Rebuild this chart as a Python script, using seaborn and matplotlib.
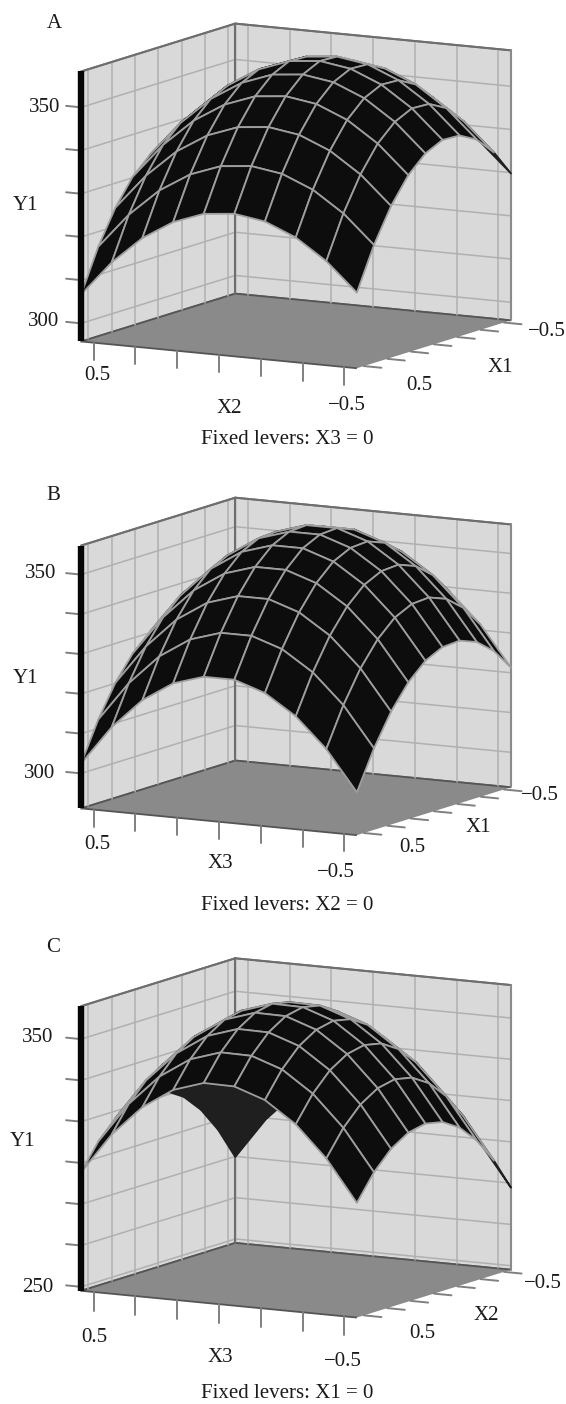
import numpy as np
import seaborn as sns
import matplotlib.pyplot as plt
from mpl_toolkits.mplot3d import proj3d

sns.set_theme(style="white")
plt.rcParams['font.family'] = ['Liberation Serif', 'DejaVu Sans']

# factor levels of the response surface mesh
levels = [-0.55, -0.428, -0.306, -0.183, -0.061, 0.061, 0.183, 0.306, 0.428, 0.55]
ticks = [0.5, 1/3, 1/6, 0, -1/6, -1/3, -0.5]

# rows follow the right hand factor, columns the left hand factor
y1_a = [
    [329.8, 336.4, 341.2, 344.2, 345.3, 344.6, 342.0, 337.6, 331.3, 323.2],
    [335.9, 342.5, 347.3, 350.3, 351.4, 350.7, 348.1, 343.7, 337.4, 329.3],
    [340.1, 346.7, 351.5, 354.5, 355.6, 354.9, 352.3, 347.9, 341.6, 333.5],
    [342.3, 348.9, 353.7, 356.7, 357.8, 357.1, 354.5, 350.1, 343.8, 335.7],
    [342.5, 349.1, 353.9, 356.9, 358.0, 357.3, 354.7, 350.3, 344.0, 335.9],
    [340.6, 347.2, 352.0, 355.0, 356.1, 355.4, 352.8, 348.4, 342.1, 334.0],
    [336.8, 343.4, 348.2, 351.2, 352.3, 351.6, 349.0, 344.6, 338.3, 330.2],
    [330.9, 337.5, 342.3, 345.3, 346.4, 345.7, 343.1, 338.7, 332.4, 324.3],
    [323.1, 329.7, 334.5, 337.5, 338.6, 337.9, 335.3, 330.9, 324.6, 316.5],
    [313.3, 319.9, 324.7, 327.7, 328.8, 328.1, 325.5, 321.1, 314.8, 306.7],
]
y1_b = [
    [321.3, 331.4, 338.9, 344.0, 346.6, 346.6, 344.2, 339.2, 331.7, 321.8],
    [326.8, 336.9, 344.4, 349.5, 352.1, 352.1, 349.7, 344.7, 337.2, 327.3],
    [330.4, 340.5, 348.0, 353.1, 355.7, 355.7, 353.3, 348.3, 340.8, 330.9],
    [332.1, 342.2, 349.7, 354.8, 357.4, 357.4, 355.0, 350.0, 342.5, 332.6],
    [331.8, 341.9, 349.4, 354.5, 357.1, 357.1, 354.7, 349.7, 342.2, 332.3],
    [329.7, 339.8, 347.3, 352.4, 355.0, 355.0, 352.6, 347.6, 340.1, 330.2],
    [325.6, 335.7, 343.2, 348.3, 350.9, 350.9, 348.5, 343.5, 336.0, 326.1],
    [319.6, 329.7, 337.2, 342.3, 344.9, 344.9, 342.5, 337.5, 330.0, 320.1],
    [311.7, 321.8, 329.3, 334.4, 337.0, 337.0, 334.6, 329.6, 322.1, 312.2],
    [302.0, 312.1, 319.6, 324.7, 327.3, 327.3, 324.9, 319.9, 312.4, 302.5],
]
y1_c = [
    [281.5, 298.2, 310.8, 319.4, 323.7, 323.9, 319.9, 311.7, 299.5, 283.1],
    [294.6, 311.3, 323.9, 332.5, 336.8, 337.0, 333.0, 324.8, 312.6, 296.2],
    [304.8, 321.5, 334.1, 342.7, 347.0, 347.2, 343.2, 335.0, 322.8, 306.4],
    [312.2, 328.9, 341.5, 350.1, 354.4, 354.6, 350.6, 342.4, 330.2, 313.8],
    [316.6, 333.3, 345.9, 354.5, 358.8, 359.0, 355.0, 346.8, 334.6, 318.2],
    [318.1, 334.8, 347.4, 356.0, 360.3, 360.5, 356.5, 348.3, 336.1, 319.7],
    [316.6, 333.3, 345.9, 354.5, 358.8, 359.0, 355.0, 346.8, 334.6, 318.2],
    [312.2, 328.9, 341.5, 350.1, 354.4, 354.6, 350.6, 342.4, 330.2, 313.8],
    [304.9, 321.6, 334.2, 342.8, 347.1, 347.3, 343.3, 335.1, 322.9, 306.5],
    [294.7, 311.4, 324.0, 332.6, 336.9, 337.1, 333.1, 324.9, 312.7, 296.3],
]

z_ticks_a = [300, 310, 320, 330, 340, 350]
z_ticks_b = [300, 310, 320, 330, 340, 350]
z_ticks_c = [250, 266.67, 283.33, 300, 316.67, 333.33, 350]

W, H = 566, 1404
AX_PX = 509
BASE_NORM = 1.66


def txt(px, py, s, size=15):
    plt.figtext(px / W, 1 - py / H, s, ha='center', va='center', size=size, color='#1a1a1a')


def surface_panel(z, z_lim, z_ticks, cy, ratio):
    left = (289.2 - AX_PX / 2) / W
    bottom = 1 - (cy + 6.8 + AX_PX / 2) / H
    ax = plt.axes([left, bottom, AX_PX / W, AX_PX / H], projection='3d', proj_type='ortho')
    ax.patch.set_alpha(0)
    ax.computed_zorder = False
    aspect = np.array([1, 1, ratio])
    ax.set_box_aspect(aspect, zoom=np.linalg.norm(aspect) / BASE_NORM)
    ax.view_init(elev=10, azim=-60.8)
    ax.set_xlim(0.55, -0.55)
    ax.set_ylim(0.55, -0.55)
    ax.set_zlim(*z_lim)
    ax.set_xticks([])
    ax.set_yticks([])
    ax.set_zticks([])
    ax.grid(False)

    ax.xaxis.set_pane_color('#d9d9d9')
    ax.yaxis.set_pane_color('#d9d9d9')
    ax.zaxis.set_pane_color('#8a8a8a')
    ax.xaxis.pane.set_edgecolor('#777777')
    ax.yaxis.pane.set_edgecolor('#777777')
    ax.zaxis.pane.set_edgecolor('#555555')
    for axis in (ax.xaxis, ax.yaxis, ax.zaxis):
        axis.line.set_color((0, 0, 0, 0))
        axis.pane.set_linewidth(1.3)

    z0, z1 = z_lim
    grid = dict(color='#b0b0b0', lw=1.1, zorder=1)
    for t in ticks:
        ax.plot([t, t], [-0.55, -0.55], [z0, z1], **grid)
        ax.plot([0.55, 0.55], [t, t], [z0, z1], **grid)
    for t in z_ticks:
        ax.plot([0.55, 0.55], [-0.55, 0.55], [t, t], **grid)
        ax.plot([-0.55, 0.55], [-0.55, -0.55], [t, t], **grid)

    X, Y = np.meshgrid(levels, levels)
    Z = np.array(z)
    surf = ax.plot_surface(X, Y, Z, rstride=1, cstride=1, color='#0d0d0d', shade=False,
                           linewidth=1.3, edgecolor='#a3a3a3', antialiased=True, zorder=2)

    # cells seen from underneath are a bit lighter and show no mesh lines
    sx, sy, _ = proj3d.proj_transform(X.ravel(), Y.ravel(), Z.ravel(), ax.get_proj())
    sx, sy = np.reshape(sx, X.shape), np.reshape(sy, X.shape)
    d1x, d1y = sx[1:, 1:] - sx[:-1, :-1], sy[1:, 1:] - sy[:-1, :-1]
    d2x, d2y = sx[1:, :-1] - sx[:-1, 1:], sy[1:, :-1] - sy[:-1, 1:]
    area = (d1x * d2y - d1y * d2x).ravel()
    front = np.sign(area[-1])
    under = np.sign(area) != front
    faces = np.where(under[:, None], [[0.12, 0.12, 0.12, 1]], [[0.05, 0.05, 0.05, 1]])
    edges = np.where(under[:, None], [[0.12, 0.12, 0.12, 1]], [[0.62, 0.62, 0.62, 1]])
    surf.set_facecolor(faces)
    surf.set_edgecolor(edges)

    tick_len = (z1 - z0) * 0.065
    tick = dict(color='#808080', lw=1.4, zorder=3)
    for t in ticks:
        ax.plot([t, t], [0.55, 0.55], [z0, z0 - tick_len], **tick)
        ax.plot([-0.55, -0.62], [t, t], [z0, z0], **tick)
    for t in z_ticks:
        ax.plot([0.55, 0.61], [0.55, 0.55], [t, t], **tick)
    ax.plot([0.55, 0.55], [0.55, 0.55], [z0, z1], color='#050505', lw=4.6, zorder=4,
            solid_capstyle='butt')
    ax.plot([0.55, 0.55], [-0.55, -0.55], [z0, z1], color='#6e6e6e', lw=1.5, zorder=1)
    ax.plot([0.55, 0.55], [-0.55, 0.55], [z1, z1], color='#6e6e6e', lw=1.5, zorder=1)
    ax.plot([0.55, -0.55], [-0.55, -0.55], [z1, z1], color='#6e6e6e', lw=1.5, zorder=1)
    ax.plot([-0.55, -0.55], [-0.55, -0.55], [z0, z1], color='#8a8a8a', lw=1.5, zorder=1)
    return ax


fig = plt.figure(figsize=(W / 100, H / 100), dpi=100)

surface_panel(y1_a, (295.8, 358.3), z_ticks_a, 196, 0.868)
surface_panel(y1_b, (291.2, 357.3), z_ticks_b, 666.5, 0.845)
surface_panel(y1_c, (248.4, 363.3), z_ticks_c, 1138, 0.915)

txt(54, 23, 'A')
txt(45, 108, '350')
txt(44, 322, '300')
txt(25, 205, 'Y1')
txt(97, 375, '0.5')
txt(229, 408, 'X2')
txt(347, 405, '−0.5')
txt(419, 385, '0.5')
txt(500, 367, 'X1')
txt(547, 332, '−0.5')
txt(287, 440, 'Fixed levers: X3 = 0')

txt(53, 495, 'B')
txt(41, 574, '350')
txt(40, 773, '300')
txt(25, 678, 'Y1')
txt(97, 844, '0.5')
txt(220, 864, 'X3')
txt(336, 872, '−0.5')
txt(412, 847, '0.5')
txt(478, 827, 'X1')
txt(540, 796, '−0.5')
txt(287, 905, 'Fixed levers: X2 = 0')

txt(53, 947, 'C')
txt(38, 1037, '350')
txt(38, 1288, '250')
txt(22, 1141, 'Y1')
txt(94, 1338, '0.5')
txt(220, 1357, 'X3')
txt(343, 1362, '−0.5')
txt(422, 1333, '0.5')
txt(486, 1316, 'X2')
txt(543, 1284, '−0.5')
txt(287, 1393, 'Fixed levers: X1 = 0')

plt.savefig('out.png', dpi=100)
